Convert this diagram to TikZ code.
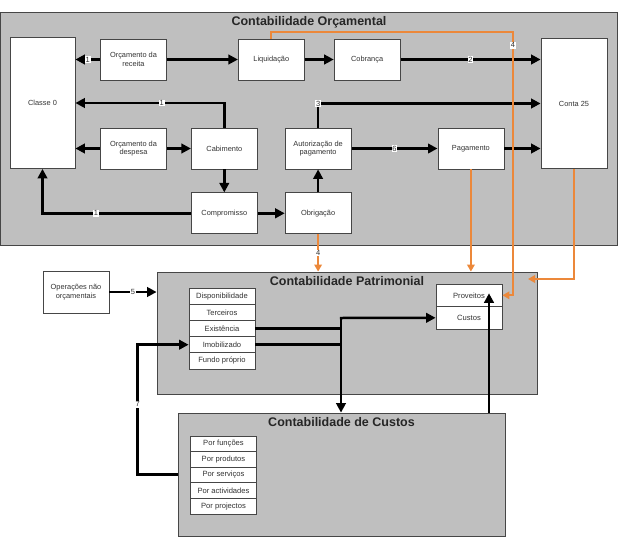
\documentclass[tikz,border=0pt]{standalone}
\usepackage{fontspec}
\setmainfont{Liberation Sans}
\usetikzlibrary{positioning,arrows.meta}
\definecolor{panelgray}{RGB}{191,191,191}
\definecolor{linegray}{RGB}{70,70,70}
\definecolor{orangeline}{RGB}{236,136,58}

\begin{document}
\begin{tikzpicture}[x=1pt, y=-1pt, node distance=24pt,
    main/.style = {draw=linegray, fill=white, rectangle, line width=0.8pt, minimum width=66pt, minimum height=41pt, align=center, font=\fontsize{7.4}{8.6}\selectfont, text=black!80},
    row/.style = {draw=linegray, fill=white, line width=0.8pt, minimum width=66pt, inner sep=0pt, font=\fontsize{7.6}{8}\selectfont, text=black!80},
    panel/.style = {draw=linegray, fill=panelgray, line width=0.8pt, inner sep=0pt},
    ttl/.style = {anchor=north, inner sep=4.5pt, font=\bfseries\fontsize{12.5}{14}\selectfont, text=black!85},
    arr/.style = {line width=2.5pt, -{Triangle[length=9.5pt,width=9.5pt]}},
    bar/.style = {line width=2.5pt},
    oarr/.style = {draw=orangeline, line width=2.2pt, -{Triangle[length=7pt,width=7.5pt]}},
    lbl/.style = {fill=white, inner sep=0.8pt, text=black!80, font=\fontsize{7.5}{7.5}\selectfont}
    ]
\useasboundingbox (0,0) rectangle (621,546);

% panels
\node[panel, minimum width=617pt, minimum height=233pt] (A) at (309,128.5) {};
\node[panel, minimum width=380pt, minimum height=122pt] (B) at (347,333) {};
\node[panel, minimum width=327pt, minimum height=123pt] (C) at (341.5,474.5) {};
\node[ttl] (tA) at (A.north) {Contabilidade Orçamental};
\node[ttl] (tB) at (B.north) {Contabilidade Patrimonial};
\node[ttl] (tC) at (C.north) {Contabilidade de Custos};

% contabilidade orcamental
\node[main, minimum height=131pt, minimum width=65pt] (0) at (42.5,103) {Classe 0};
\node[main] (1) at (133.5,59.5) {Orçamento da\\receita};
\node[main] (2) [right=71pt of 1] {Liquidação};
\node[main] (3) [right=29pt of 2] {Cobrança};
\node[main, minimum height=130pt] (4) at (574,103.5) {Conta 25};
\node[main] (5) at (133.5,148.5) {Orçamento da\\despesa};
\node[main] (6) [right=24pt of 5] {Cabimento};
\node[main] (7) [right=27pt of 6] {Autorização de\\pagamento};
\node[main] (8) [right=86pt of 7] {Pagamento};
\node[main] (9) [below=23pt of 6] {Compromisso};
\node[main] (10) [right=27pt of 9] {Obrigação};

% contabilidade patrimonial
\node[main, minimum height=42pt] (11) at (76,292) {Operações não\\orçamentais};
\node[row, minimum height=16.2pt] (12) at (222,296.1) {Disponibilidade};
\node[row, minimum height=16.2pt] (13) [below=-0.8pt of 12] {Terceiros};
\node[row, minimum height=16.2pt] (14) [below=-0.8pt of 13] {Existência};
\node[row, minimum height=16.2pt] (15) [below=-0.8pt of 14] {Imobilizado};
\node[row, minimum height=16.2pt] (16) [below=-0.8pt of 15] {Fundo próprio};
\node[row, minimum height=22.5pt] (17) at (469,295.3) {Proveitos};
\node[row, minimum height=22.5pt] (18) [below=-0.8pt of 17] {Custos};

% contabilidade de custos
\node[row, minimum height=15.6pt] (19) at (223.5,443.8) {Por funções};
\node[row, minimum height=15.6pt] (20) [below=-0.8pt of 19] {Por produtos};
\node[row, minimum height=15.6pt] (21) [below=-0.8pt of 20] {Por serviços};
\node[row, minimum height=15.6pt] (22) [below=-0.8pt of 21] {Por actividades};
\node[row, minimum height=15.6pt] (23) [below=-0.8pt of 22] {Por projectos};

\coordinate (o1) at (513,32);
\coordinate (o2) at (528,279);
\coordinate (j) at (341,318);
\coordinate (o4) at ([xshift=20pt,yshift=2pt]17.center);

% black connectors
\draw[arr] (1) -- (1 -| 0.east) node[lbl, midway] {1};
\draw[arr] (1) -- (2);
\draw[arr] (2) -- (3);
\draw[arr] (3) -- (3 -| 4.west) node[lbl, midway] {2};
\draw[arr] (6.north) |- (0.east) node[lbl, pos=0.71] {1};
\draw[arr] (5) -- (5 -| 0.east);
\draw[arr] (5) -- (6);
\draw[arr] (6) -- (9);
\draw[arr] (9.west) -| (0.south) node[lbl, pos=0.32] {1};
\draw[arr] (9) -- (10);
\draw[arr] (10) -- (7);
\draw[arr] (7.north) |- (7.north |- 4.west) node[lbl, pos=0.72] {3} -- (4.west);
\draw[arr] (7) -- (8) node[lbl, midway] {6};
\draw[arr] (8) -- (8 -| 4.west);

\draw[arr] (11) -- (11 -| B.west) node[lbl, midway] {5};
\draw[bar] (14.east) -- (14.east -| j);
\draw[bar] (15.east) -- (15.east -| j);
\draw[arr, line cap=rect] (j) -- (18.west);
\draw[arr, line cap=rect] (j) -- (j |- C.north);
\draw[arr] (C.west) -| ([xshift=-51pt]15.west) node[lbl, pos=0.77] {7} -- (15.west);
\draw[arr] (C.north -| o4) -- (o4);

% orange connectors
\draw[oarr] (2.north) |- (o1) |- (17.east) node[lbl, pos=0.025] {4};
\draw[oarr] (10.south) -- (10.south |- B.north) node[lbl, midway] {4};
\draw[oarr] (8.south) -- (8.south |- B.north);
\draw[oarr] (4.south) |- (o2);

\end{tikzpicture}
\end{document}
